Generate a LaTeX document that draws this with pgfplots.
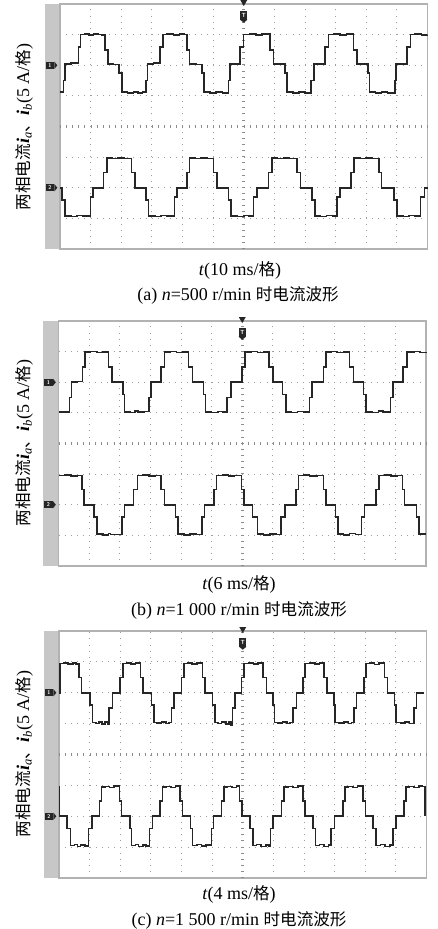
\documentclass[border=0pt]{standalone}
\usepackage{fontspec}
\setmainfont{Liberation Serif}
\newfontfamily\cjk[Scale=0.92]{Noto Sans CJK SC}
\usepackage{pgfplots}
\pgfplotsset{compat=1.18}
\newcommand\lab{\fontsize{18}{20}\selectfont}
\pgfplotsset{
  scopeax/.style={
    anchor=north west, scale only axis, width=367.5pt, height=245pt,
    xmin=0,xmax=12,ymin=-4,ymax=4,
    xtick={0,...,12}, ytick={-4,...,4},
    xticklabels={}, yticklabels={},
    major tick length=0pt,
    grid=major,
    major grid style={draw=black!38, line width=0.9pt, dash pattern=on 0.9pt off 5.22pt},
    axis line style={draw=black!30, line width=1.2pt},
    clip=false,
  },
  trace/.style={const plot, draw=black!85, line width=1.6pt, mark=none},
}
\newcommand\scopedeco{%
  \draw[black!45, line width=3pt, dash pattern=on 0.9pt off 5.22pt] (axis cs:0,0) -- (axis cs:12,0);
  \draw[black!45, line width=3pt, dash pattern=on 0.9pt off 5.22pt] (axis cs:6,-4) -- (axis cs:6,4);
  \node[fill=black!85, text=white, inner sep=0pt, minimum width=8.5pt, minimum height=7pt, font=\sffamily\bfseries\fontsize{5.5}{5.5}\selectfont] (c1) at (axis cs:-0.33,2) {1};
  \fill[black!85] (c1.north east) -- ([xshift=3pt]c1.east) -- (c1.south east) -- cycle;
  \node[fill=black!85, text=white, inner sep=0pt, minimum width=8.5pt, minimum height=7pt, font=\sffamily\bfseries\fontsize{5.5}{5.5}\selectfont] (c2) at (axis cs:-0.33,-2) {2};
  \fill[black!85] (c2.north east) -- ([xshift=3pt]c2.east) -- (c2.south east) -- cycle;
  \coordinate (T) at (axis cs:6,4);
  \fill[black!85] ([xshift=-3.5pt,yshift=4pt]T) -- ([xshift=3.5pt,yshift=4pt]T) -- ([yshift=-2pt]T) -- cycle;
  \node[fill=black!85, text=white, inner sep=0pt, minimum width=7pt, minimum height=9pt, font=\sffamily\bfseries\fontsize{6}{6}\selectfont] (tb) at ([yshift=-11pt]T) {T};
  \fill[black!85] (tb.south west) -- (tb.south east) -- ([yshift=-3pt]tb.south) -- cycle;
}
\begin{document}
\begin{tikzpicture}
\useasboundingbox (0,0) rectangle (438pt,-929pt);
\fill[white] (0,0) rectangle (438pt,-929pt);
% ---------------- panel (a)
\fill[black!22] (45pt,-4pt) rectangle (60pt,-249pt);
\begin{axis}[scopeax, at={(60pt,-4pt)}]
\scopedeco
\addplot[trace] coordinates {(0,1.12)(0.11,1.5)(0.16,2.05)(0.35,2.07)(0.60,2.6)(0.675,3.0)(0.8,3.02)(0.95,2.99)(1.1,3.03)(1.25,3.0)(1.35,2.98)(1.47,2.5)(1.56,2.05)(1.75,2.02)(1.93,1.75)(2.02,1.12)(2.2,1.1)(2.4,1.13)(2.55,1.09)(2.7,1.12)(2.81,1.5)(2.86,2.05)(3.05,2.07)(3.27,2.6)(3.36,3.0)(3.5,3.02)(3.7,2.99)(3.9,3.02)(4.05,3.0)(4.14,2.5)(4.23,2.05)(4.45,2.02)(4.63,1.75)(4.71,1.12)(4.9,1.1)(5.1,1.13)(5.3,1.1)(5.50,1.5)(5.55,2.05)(5.88,2.6)(5.99,3.0)(6.2,3.02)(6.4,2.99)(6.6,3.02)(6.86,2.5)(6.97,2.05)(7.35,1.75)(7.41,1.12)(7.6,1.1)(7.8,1.13)(8.0,1.1)(8.20,1.5)(8.30,2.05)(8.66,2.6)(8.77,3.0)(8.95,3.02)(9.15,2.99)(9.35,3.02)(9.59,2.5)(9.70,2.05)(10.05,1.75)(10.10,1.12)(10.3,1.1)(10.5,1.13)(10.7,1.1)(10.93,1.5)(10.98,2.05)(11.33,2.6)(11.44,3.0)(11.6,3.02)(11.8,2.99)(12.0,3.0)};
\addplot[trace] coordinates {(0,-2.0)(0.07,-2.4)(0.16,-2.92)(0.35,-2.94)(0.55,-2.91)(0.75,-2.93)(1.00,-2.3)(1.07,-2.0)(1.42,-1.5)(1.53,-1.03)(1.7,-1.05)(1.9,-1.02)(2.1,-1.04)(2.34,-1.5)(2.45,-2.0)(2.81,-2.4)(2.89,-2.92)(3.1,-2.94)(3.3,-2.91)(3.5,-2.93)(3.74,-2.3)(3.82,-2.0)(4.14,-1.5)(4.23,-1.03)(4.4,-1.05)(4.6,-1.02)(4.8,-1.04)(5.01,-1.5)(5.12,-2.0)(5.50,-2.4)(5.58,-2.92)(5.8,-2.94)(6.0,-2.91)(6.15,-2.93)(6.32,-2.3)(6.43,-2.0)(6.81,-1.5)(6.92,-1.03)(7.1,-1.05)(7.3,-1.02)(7.5,-1.04)(7.74,-1.5)(7.85,-2.0)(8.22,-2.4)(8.33,-2.92)(8.5,-2.94)(8.7,-2.91)(8.9,-2.93)(9.04,-2.3)(9.15,-2.0)(9.50,-1.5)(9.60,-1.03)(9.8,-1.05)(10.0,-1.02)(10.2,-1.04)(10.41,-1.5)(10.50,-2.0)(10.90,-2.4)(11.00,-2.92)(11.2,-2.94)(11.4,-2.91)(11.6,-2.93)(11.77,-2.3)(11.90,-2.0)(12,-2.0)};
\end{axis}
\node[font=\lab, rotate=90] at (24pt,-127pt) {{\cjk 两相电流}\textbf{\textit{i}}\textsubscript{\textit{a}}{\cjk 、}\textbf{\textit{i}}\textsubscript{\textit{b}}(5 A/{\cjk 格})};
\node[font=\lab] at (240pt,-270pt) {\textit{t}(10 ms/{\cjk 格})};
\node[font=\lab] at (238pt,-295pt) {(a) \textit{n}=500 r/min {\cjk 时电流波形}};
% ---------------- panel (b)
\fill[black!22] (43pt,-321pt) rectangle (58.5pt,-566pt);
\begin{axis}[scopeax, at={(58.5pt,-321pt)}]
\scopedeco
\addplot[trace] coordinates {(0,1.03)(0.355,1.5)(0.43,2.01)(0.6,2.03)(0.78,2.5)(0.87,2.98)(1.05,3.0)(1.25,2.97)(1.45,2.99)(1.63,2.5)(1.74,2.01)(2.10,1.6)(2.16,1.03)(2.35,1.01)(2.5,1.06)(2.6,1.02)(2.8,1.04)(2.95,1.5)(3.03,2.01)(3.35,2.5)(3.46,2.98)(3.65,3.0)(3.85,2.97)(4.05,2.99)(4.24,2.5)(4.37,2.01)(4.73,1.6)(4.80,1.03)(5.0,1.01)(5.2,1.04)(5.35,1.02)(5.51,1.5)(5.64,2.01)(6.00,2.5)(6.09,2.98)(6.3,3.0)(6.5,2.97)(6.7,2.99)(6.88,2.5)(7.01,2.01)(7.32,1.6)(7.43,1.03)(7.6,1.01)(7.8,1.04)(8.0,1.02)(8.20,1.5)(8.28,2.01)(8.65,2.5)(8.74,2.98)(8.9,3.0)(9.1,2.97)(9.3,2.99)(9.50,2.5)(9.63,2.01)(9.96,1.6)(10.05,1.03)(10.25,1.01)(10.45,1.06)(10.6,1.02)(10.84,1.5)(10.93,2.01)(11.25,2.5)(11.38,2.98)(11.6,3.0)(11.8,2.97)(12,2.99)};
\addplot[trace] coordinates {(0,-1.05)(0.2,-1.03)(0.4,-1.06)(0.6,-1.04)(0.76,-1.5)(0.84,-2.0)(1.16,-2.4)(1.25,-2.96)(1.45,-2.98)(1.63,-2.94)(1.7,-2.97)(2.07,-2.4)(2.15,-2.0)(2.45,-1.5)(2.58,-1.05)(2.75,-1.03)(2.95,-1.06)(3.15,-1.04)(3.35,-1.5)(3.46,-2.0)(3.82,-2.4)(3.90,-2.96)(4.1,-2.98)(4.3,-2.95)(4.5,-2.97)(4.69,-2.4)(4.77,-2.0)(5.08,-1.5)(5.16,-1.05)(5.35,-1.03)(5.55,-1.06)(5.75,-1.04)(5.98,-1.5)(6.06,-2.0)(6.33,-2.4)(6.50,-2.96)(6.7,-2.98)(6.9,-2.95)(7.1,-2.97)(7.26,-2.4)(7.40,-2.0)(7.75,-1.5)(7.84,-1.05)(8.0,-1.03)(8.2,-1.06)(8.45,-1.04)(8.65,-1.5)(8.74,-2.0)(9.04,-2.4)(9.12,-2.96)(9.3,-2.98)(9.5,-2.94)(9.7,-2.97)(9.89,-2.4)(9.99,-2.0)(10.36,-1.5)(10.46,-1.05)(10.65,-1.03)(10.85,-1.06)(11.05,-1.04)(11.23,-1.5)(11.30,-2.0)(11.69,-2.4)(11.78,-2.96)(12,-2.96)};
\end{axis}
\node[font=\lab, rotate=90] at (24pt,-443pt) {{\cjk 两相电流}\textbf{\textit{i}}\textsubscript{\textit{a}}{\cjk 、}\textbf{\textit{i}}\textsubscript{\textit{b}}(5 A/{\cjk 格})};
\node[font=\lab] at (239pt,-584pt) {\textit{t}(6 ms/{\cjk 格})};
\node[font=\lab] at (239pt,-610pt) {(b) \textit{n}=1~000 r/min {\cjk 时电流波形}};
% ---------------- panel (c)
\fill[black!22] (44pt,-631pt) rectangle (59pt,-878pt);
\begin{axis}[scopeax, at={(59pt,-631pt)}, height=247pt]
\scopedeco
\addplot[trace] coordinates {(0,2.0)(0.03,2.95)(0.15,2.97)(0.3,2.93)(0.45,2.96)(0.55,2.94)(0.66,2.5)(0.74,2.0)(1.01,1.6)(1.09,1.04)(1.2,1.0)(1.3,1.06)(1.4,0.98)(1.5,1.05)(1.58,0.97)(1.64,1.5)(1.75,2.0)(1.99,2.5)(2.08,2.95)(2.2,2.97)(2.35,2.93)(2.5,2.97)(2.66,2.5)(2.75,2.0)(3.02,1.6)(3.10,1.04)(3.2,1.02)(3.35,1.06)(3.5,1.0)(3.6,1.04)(3.67,1.5)(3.75,2.0)(4.00,2.5)(4.08,2.95)(4.2,2.97)(4.35,2.93)(4.5,2.96)(4.68,2.5)(4.76,2.0)(5.01,1.6)(5.09,1.04)(5.2,1.0)(5.3,1.06)(5.45,0.98)(5.55,1.05)(5.62,0.96)(5.66,1.5)(5.74,2.0)(5.96,2.5)(6.04,2.95)(6.2,2.97)(6.35,2.93)(6.5,2.96)(6.66,2.5)(6.77,2.0)(6.99,1.6)(7.04,1.04)(7.15,1.02)(7.3,1.06)(7.45,1.0)(7.55,1.04)(7.64,1.5)(7.75,2.0)(7.97,2.5)(8.04,2.95)(8.2,2.97)(8.35,2.94)(8.5,2.96)(8.65,2.5)(8.76,2.0)(8.98,1.6)(9.02,1.04)(9.15,1.02)(9.3,1.06)(9.45,1.0)(9.55,1.04)(9.63,1.5)(9.71,2.0)(9.96,2.5)(10.03,2.95)(10.15,2.97)(10.3,2.92)(10.45,2.96)(10.63,2.5)(10.72,2.0)(10.96,1.6)(11.00,1.04)(11.15,1.02)(11.3,1.05)(11.45,1.01)(11.59,1.5)(11.67,2.0)(11.93,2.0)};
\addplot[trace] coordinates {(0,-1.05)(0.02,-2.0)(0.27,-2.4)(0.38,-2.95)(0.5,-2.92)(0.6,-2.98)(0.7,-2.93)(0.85,-2.97)(0.96,-2.4)(1.07,-2.0)(1.32,-1.5)(1.39,-1.05)(1.5,-1.03)(1.65,-1.07)(1.8,-1.02)(1.97,-1.5)(2.04,-2.0)(2.32,-2.4)(2.37,-2.95)(2.5,-2.92)(2.6,-2.98)(2.75,-2.93)(2.85,-2.97)(2.95,-2.4)(3.05,-2.0)(3.29,-1.5)(3.38,-1.05)(3.5,-1.03)(3.65,-1.07)(3.8,-1.02)(3.95,-1.5)(4.03,-2.0)(4.29,-2.4)(4.36,-2.95)(4.5,-2.92)(4.65,-2.97)(4.8,-2.93)(4.98,-2.4)(5.05,-2.0)(5.30,-1.5)(5.38,-1.05)(5.5,-1.03)(5.65,-1.07)(5.8,-1.02)(5.90,-1.5)(5.98,-2.0)(6.23,-2.4)(6.34,-2.95)(6.45,-2.92)(6.6,-2.98)(6.75,-2.93)(6.85,-2.97)(6.91,-2.4)(6.99,-2.0)(7.26,-1.5)(7.35,-1.05)(7.5,-1.03)(7.65,-1.07)(7.8,-1.02)(7.97,-1.5)(8.04,-2.0)(8.29,-2.4)(8.37,-2.95)(8.5,-2.92)(8.65,-2.98)(8.8,-2.93)(8.89,-2.4)(9.00,-2.0)(9.27,-1.5)(9.33,-1.05)(9.45,-1.03)(9.6,-1.07)(9.75,-1.02)(9.92,-1.5)(10.01,-2.0)(10.25,-2.4)(10.36,-2.95)(10.5,-2.92)(10.65,-2.98)(10.8,-2.93)(10.90,-2.4)(11.00,-2.0)(11.27,-1.5)(11.33,-1.05)(11.45,-1.03)(11.6,-1.07)(11.75,-1.02)(11.85,-1.04)(11.95,-2.0)};
\end{axis}
\node[font=\lab, rotate=90] at (24pt,-754pt) {{\cjk 两相电流}\textbf{\textit{i}}\textsubscript{\textit{a}}{\cjk 、}\textbf{\textit{i}}\textsubscript{\textit{b}}(5 A/{\cjk 格})};
\node[font=\lab] at (239pt,-894pt) {\textit{t}(4 ms/{\cjk 格})};
\node[font=\lab] at (239pt,-920pt) {(c) \textit{n}=1~500 r/min {\cjk 时电流波形}};
\end{tikzpicture}
\end{document}
